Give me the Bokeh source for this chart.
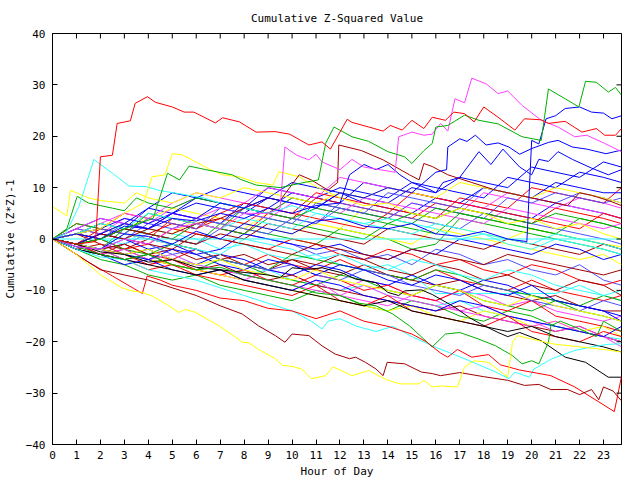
from bokeh.plotting import figure
from bokeh.models import FixedTicker, Range1d
from bokeh.embed import file_html
from bokeh.resources import INLINE

# ---------------- data ----------------
TITLE = "Cumulative Z-Squared Value"
X_LABEL = "Hour of Day"
Y_LABEL = "Cumulative (Z*Z)-1"
X_TICKS = list(range(0, 24))
Y_TICKS = [-40, -30, -20, -10, 0, 10, 20, 30, 40]

# common hourly grid for the dense middle of the bundle
HOURS = [0, 1, 2, 3, 4, 5, 6, 7, 8, 9, 10, 11, 12, 13, 14, 15, 16, 17, 18, 19, 20, 21, 22, 23, 23.75]

C01 = [0, -1, 1, 3, 2, 5, 4, 3, 7, 6, 9, 8, 10, 9, 8, 11, 10, 9, 8, 12, 11, 10, 13, 12, 11]
C02 = [0, -2, -3, -1, -3, -4, -2, -4, -5, -3, -5, -6, -4, -6, -7, -8, -6, -8, -9, -10, -8, -10, -11, -12, -11]
C03 = [0, -1, -2, 2, 1, 0, -1, 3, 2, 1, 0, -1, 2, 1, 0, -2, -1, 4, 3, 2, 1, 0, -1, -2, -3]
C04 = [0, -1, -3, -4, -3, -5, -6, -7, -8, -6, -7, -9, -10, -8, -9, -11, -12, -10, -11, -13, -12, -14, -15, -16, -15]
C05 = [0, -2, -1, -3, -4, -3, -5, -6, -7, -6, -8, -9, -10, -9, -11, -12, -13, -12, -14, -15, -16, -17, -18, -19, -19.5]
C06 = [0, 1, -1, -2, 0, -1, -2, -4, -3, -5, -4, -6, -7, -5, -7, -8, -9, -8, -10, -11, -12, -11, -13, -14, -14]
C07 = [0, 2, 1, 3, 2, 1, 4, 3, 2, 5, 4, 3, 2, 6, 5, 4, 3, 2, 1, 0, 2, 1, 0, -1, -1.5]
C09 = [0, -1, -2, -1, 1, 0, -1, 2, 1, 0, -1, -3, -2, -4, -3, -5, -2, -3, -5, -4, -6, -7, -5, -8, -9]
C10 = [0, 1, 3, 2, 6, 5, 7, 6, 5, 8, 7, 6, 9, 7, 6, 5, 8, 7, 6, 5, 4, 7, 6, 5, 4]
C11 = [0, -1, 0, -2, -1, 2, 1, 0, -1, -2, 0, -1, -3, -4, -2, -3, -5, -4, -6, -7, -5, -6, -8, -9, -8]
C12 = [0, -2, -4, -5, -7, -8, -7, -9, -10, -11, -12, -10, -11, -13, -14, -12, -13, -15, -16, -14, -15, -17, -18, -19, -20]
C13 = [0, 2, 1, 4, 3, 6, 8, 7, 6, 5, 8, 7, 6, 5, 4, 7, 6, 5, 9, 8, 7, 6, 8, 7, 6]
C14 = [0, 1, 0, -1, 2, 1, 0, -2, -1, -3, -4, -3, -5, -6, -5, -7, -10.6, -10.6, -10.6, -10.6, -10.6, -10.6, -9, -11, -12]
C15 = [0, -1, -2, -3, -2, -4, -5, -3, -4, -6, -7, -5, -6, -8, -9, -7, -9, -10, -8, -9, -11, -12, -13, -14, -16]
C16 = [0, 3, 2, 5, 4, 3, 2, 5, 7, 6, 5, 9, 8, 7, 6, 5, 4, 8, 7, 6, 10, 9, 8, 7, 10]
C17 = [0, 1, 3, 2, 4, 6, 5, 4, 3, 2, 1, 3, 2, 1, 0, -1, 2, 1, 0, -1, -2, -3, -4, -3, -5]
C18 = [0, -1, -3, -2, -4, -5, -6, -5, -7, -8, -7, -9, -10, -11, -12, -13, -14, -13, -15, -16, -17, -18, -17, -19, -20]
C19 = [0, -1, 1, 0, -2, -1, -3, -2, 1, 0, -1, -2, -1, -3, -4, -2, -3, 0, -1, -2, -3, -1, -2, -4, -3]
C20 = [0, -1, -2, -4, -3, -5, -6, -4, -5, -7, -8, -9, -7, -8, -10, -11, -9, -10, -12, -13, -14, -12, -14, -15, -16]
C21 = [0, 2, 1, 0, 3, 2, 4, 3, 2, 1, 4, 3, 6, 5, 4, 7, 6, 5, 4, 8, 7, 9, 8, 7, 8]
C22 = [0, -1, -2, -4, -5, -4, -6, -7, -8, -9, -10, -8, -11, -12, -13, -11, -12, -14, -13, -15, -16, -18, -17, -19, -21]
C25 = [0, -2, -1, -3, -5, -4, -6, -7, -6, -8, -9, -7, -8, -10, -9, -11, -12, -10, -13, -14, -12, -15, -16, -17, -18]
C26 = [0, 1, 2, 4, 3, 5, 8, 7, 6, 10, 9, 8, 7, 11, 10, 9, 8, 7, 10, 9, 8, 11, 10, 9, 9]
C27 = [0, -1, -2, -1, -3, -2, -4, -3, -5, -6, -4, -5, -3, -4, -6, -7, -5, -6, -8, -7, -9, -10, -8, -9, -11]
C28 = [0, -1, 0, -2, -3, -1, -2, -4, -5, -6, -3, -4, -5, -6, -7, -8, -6, -7, -9, -10, -11, -12, -13, -11, -12]
C29 = [0, -1, -2, -3, -4, -5, -6, -7, -8, -9, -10, -11, -12, -13, -14, -13, -15, -16, -14, -15, -17, -16, -18, -17, -19]
C30 = [0, -1, -3, -2, -4, -3, -5, -6, -7, -8, -9, -10, -11, -9, -11, -12, -13, -14, -15, -16, -17, -16, -18, -19, -20]
C31 = [0, 1, 0, 2, 1, 3, 2, 4, 3, 6, 5, 4, 3, 2, 5, 4, 7, 6, 5, 4, 3, 6, 5, 4, 3]
C32 = [0, -2, -3, -5, -4, -6, -7, -6, -8, -9, -10, -8, -9, -11, -12, -13, -14, -12, -13, -15, -16, -17, -18, -19, -17]
C33 = [0, -1, -2, 0, -1, -3, -2, -4, -5, -6, -5, -7, -8, -6, -7, -9, -10, -11, -9, -10, -12, -13, -14, -12, -13]
C36 = [0, 2, 4, 3, 6, 9, 8, 10, 9, 8, 11, 10, 9, 8, 7, 10, 9, 12, 11, 10, 14, 13, 12, 15, 14]
C37 = [0, 1, 3, 5, 4, 7, 9, 8, 7, 10, 9, 8, 12, 11, 10, 9, 8, 7, 6, 9, 8, 7, 6, 5, 4]
C38 = [0, 3, 2, 1, 5, 4, 3, 2, 6, 5, 8, 7, 6, 5, 4, 3, 6, 5, 4, 3, 2, 1, 4, 3, 2]
C39 = [0, -1, 2, 1, 0, 4, 3, 2, 1, 5, 4, 8, 7, 6, 5, 9, 8, 7, 6, 5, 4, 3, 2, 5, 4]
C40 = [0, 1, 0, 3, 2, 5, 4, 3, 6, 5, 4, 3, 7, 6, 5, 4, 3, 2, 5, 4, 3, 2, 1, 0, -1]
C41 = [0, -1, 1, 0, -1, -2, 1, 0, -1, -2, -3, -1, -2, -3, -4, -2, -3, -4, -5, -3, -4, -5, -6, -7, -6]
C42 = [0, -1, -2, 1, 0, -1, -2, -3, 0, -1, -2, -4, -3, -5, -6, -4, -5, -7, -8, -6, -7, -9, -10, -11, -10]
C43 = [0, 2, 4, 3, 2, 5, 4, 6, 5, 4, 7, 6, 5, 8, 7, 6, 5, 4, 3, 6, 5, 4, 3, 2, 3]
C44 = [0, -1, -3, -4, -6, -5, -7, -8, -9, -10, -11, -9, -12, -13, -11, -14, -15, -16, -17, -15, -18, -19, -20, -18, -19]
C45 = [0, 1, 3, 2, 1, 0, 3, 2, 1, 4, 3, 2, 1, 0, 3, 2, 1, 5, 4, 3, 2, 1, 0, -1, -2]
C46 = [0, -1, -2, -3, -4, -2, -3, -5, -6, -4, -5, -7, -5, -6, -8, -9, -7, -8, -10, -11, -9, -12, -13, -14, -15]
C47 = [0, 1, 2, 1, 4, 3, 2, 6, 5, 4, 3, 7, 6, 5, 9, 8, 7, 6, 10, 9, 8, 7, 9, 8, 7]
C48 = [0, -1, -2, -3, -2, -4, -5, -4, -6, -7, -8, -6, -8, -9, -10, -11, -9, -10, -12, -13, -11, -13, -14, -15, -16]
C49 = [0, 1, 0, 2, 1, 0, -1, 1, 0, 3, 2, 1, 0, -1, 2, 1, 0, -1, -2, 0, -1, -2, -3, -1, -2]
C50 = [0, 1, 3, 2, 5, 4, 3, 2, 4, 3, 2, 5, 4, 3, 2, 1, 3, 2, 1, 0, -1, 1, 0, -1, -2]
C51 = [0, -2, -3, -4, -5, -6, -7, -6, -8, -9, -10, -11, -12, -13, -12, -14, -15, -16, -17, -18, -17, -19, -20, -21, -22]

# traced individual lines: (hour, value) pairs
RED_TOP = [(0, 0), (1, -1), (1.8, -0.5), (2.0, 16), (2.5, 16.3), (2.7, 22.5), (3.25, 23), (3.45, 26.4),
           (3.96, 27.7), (4.3, 26.6), (5.0, 25.7), (5.5, 24.7), (5.9, 24.7), (6.8, 22.6), (7.1, 23.6),
           (7.8, 22.8), (8.5, 20.8), (9.3, 20.9), (9.9, 20.4), (10.7, 18.3), (11.25, 18.9), (11.6, 17.5),
           (12.3, 23.3), (12.5, 22.7), (13.2, 21.8), (13.8, 21), (14.1, 22.1), (14.6, 21.2), (15.0, 23.1),
           (15.5, 21.5), (15.85, 23.7), (16.4, 23.1), (16.75, 24.7), (17.2, 24.4), (17.6, 22.8), (18.0, 25.7),
           (18.6, 23.7), (19.3, 21.2), (19.7, 23.4), (20.4, 23.2), (20.7, 22.5), (21.4, 22.9), (22.1, 20.8),
           (22.7, 21.5), (23.05, 20.2), (23.5, 20.2), (23.75, 21.5)]
MAGENTA_TOP = [(0, 0), (1, -1.5), (2, -2), (3, 0), (4, -1), (5, 2), (6, 3), (7, 2), (8, 5), (9, 5), (9.5, 6),
               (9.7, 17.9), (10.2, 16.3), (10.7, 15.4), (11.0, 16.5), (11.25, 15), (12, 13.5), (12.5, 15.5),
               (13, 14), (14.3, 13), (14.45, 19.9), (15.0, 20.8), (15.5, 20.2), (15.85, 20.4), (16.2, 22.5),
               (16.5, 21), (16.8, 27.3), (17.2, 26.5), (17.5, 31.3), (18.1, 30.2), (18.6, 28.3), (19.0, 28.8),
               (19.6, 26), (20.4, 23.1), (21.1, 21.8), (21.8, 19.9), (22.3, 20.2), (23.05, 18.6), (23.75, 17)]
GREEN_TOP = [(0, 0), (1, -1), (2, 0), (3, 2), (4.2, 4), (4.8, 12.8), (5.3, 11.5), (5.7, 14.2), (6.4, 13.5),
             (7.5, 12.5), (7.85, 11.6), (8.5, 10.5), (9.5, 10), (10.5, 11), (11.1, 11.5), (11.4, 18.6),
             (11.75, 21.8), (12.5, 19.9), (13.2, 19), (14.0, 17), (14.7, 16), (15.0, 14.7), (15.5, 17.2),
             (15.85, 18.6), (16.0, 21.8), (16.5, 22.1), (17.2, 24.1), (17.8, 23.1), (18.6, 22.4), (19.6, 19.9),
             (20.4, 19.2), (20.7, 29.2), (21.4, 27.3), (21.97, 25.7), (22.25, 30.7), (22.7, 30.5),
             (23.2, 28.6), (23.5, 29.5), (23.75, 28)]
BLUE_TOP = [(0, 0), (1, -1.5), (2, -2), (3, 1), (4, 0.5), (5, -1), (6, 1.5), (7, 0), (8, 3), (9, 2), (10, 1),
            (11, 3.5), (12, 4), (13, 2.5), (14, 2), (15, 3), (16, 1), (17, 0.5), (18, 1.5), (19, 0),
            (19.8, -0.5), (20.0, 19.2), (20.3, 18.5), (20.6, 23.4), (21.0, 24), (21.4, 25.4), (22.0, 25.7),
            (22.5, 24.7), (23.0, 24.5), (23.35, 23.4), (23.75, 24)]
BLUE_MID1 = [(0, 0), (1, -1), (2, 1), (3, 3), (4, 2), (5, 5), (6, 4), (7, 7), (8, 6), (9, 8), (10, 7), (11, 6),
             (12, 9), (13, 8), (14, 10), (15, 9), (16, 13), (16.45, 13.5), (16.5, 17.9), (17.0, 19.5),
             (17.3, 19), (17.65, 20.2), (18.1, 18.3), (18.6, 18.7), (19.05, 17.9), (19.5, 16.5), (20.0, 17.6),
             (20.7, 18.8), (21.1, 19.2), (21.7, 17.9), (22.3, 17.5), (23.1, 16.6), (23.75, 17.3)]
BLUE_MID2 = [(0, 0), (1, 1), (2, 0), (3, 2.5), (4, 2), (5, 4), (6, 3.5), (7, 5), (8, 4), (9, 6), (10, 5),
             (11, 6.5), (12, 7), (12.4, 12.5), (13, 14.5), (13.5, 13.5), (14, 14.5), (14.5, 12.5), (15, 11),
             (15.8, 9.5), (16.0, 9), (16.3, 11), (17, 12), (17.8, 17), (18.3, 14.5), (18.8, 17.5), (19.5, 14),
             (20.0, 12.5), (20.3, 15.5), (20.7, 15.1), (21.1, 17), (21.7, 15.5), (22.5, 13.8), (23.2, 12.5),
             (23.75, 13.5)]
DARKRED_HIGH = [(0, 0), (1, -1), (2, 1), (3, 0), (4, 2), (5, 1), (6, 3), (7, 4), (8, 6), (9, 8), (9.5, 7.5),
                (10.3, 12.5), (10.8, 11.5), (11.5, 9.5), (11.9, 11), (11.95, 18.3), (12.9, 17.2), (13.8, 15.4),
                (14.9, 12.5), (15.3, 11.5), (15.5, 14.7), (15.85, 14.1), (16.5, 12.5), (17.5, 11), (18.5, 9.5),
                (19.5, 8.5), (20.5, 7.5), (21.5, 6.5), (22, 9), (22.5, 8.5), (23.2, 7.5), (23.75, 6.5)]
YELLOW_HIGH = [(0, 0), (1, 1), (2, 2), (3, 5), (3.8, 7), (4.15, 12.1), (4.7, 12.5), (5.0, 16.6), (5.4, 16.4),
               (5.7, 15.7), (6.5, 13.7), (7.1, 12.5), (7.8, 12.1), (8.5, 11), (9.2, 10.5), (9.45, 13.1),
               (10.3, 12.1), (11, 10.2), (12, 8), (13, 6.5), (14, 7), (15, 5), (16, 4), (17, 6), (18, 5),
               (19, 3), (20, 4), (21, 2), (22, 3), (23, 1), (23.75, 0)]
CYAN_HIGH = [(0, 0), (0.55, 1), (1.1, 6.3), (1.73, 15.5), (1.94, 14.7), (2.5, 12.8), (3.2, 10.3), (3.9, 10.2),
             (4.5, 9.4), (5.3, 8.8), (6.3, 8), (7, 7), (8, 6), (9, 5), (10, 6.5), (11, 5), (12, 4), (13, 3),
             (14, 4), (15, 3), (16, 2), (17, 0), (18, 1), (19, -1), (20, -2), (21, 0), (22, -1), (23, -2),
             (23.75, -3)]
GREEN_EARLY = [(0, 0), (0.6, 2), (1.03, 8.3), (1.5, 7), (2, 6.5), (2.5, 6), (3, 5.5), (3.5, 8), (4, 7), (5, 6),
               (6, 8), (7, 7), (8, 6), (9, 5), (10, 4), (11, 6), (12, 5), (13, 4), (14, 3), (15, 5), (16, 4),
               (17, 6), (18, 5), (19, 4), (20, 3), (21, 5), (22, 4), (23, 3), (23.75, 2)]
YELLOW_EARLY = [(0, 6.3), (0.6, 4.5), (0.75, 9.5), (1.5, 8), (2, 7.5), (3, 7), (3.5, 9), (4, 8), (5, 7), (6, 9),
                (7, 8), (8, 10), (9, 9), (10, 8), (11, 7), (12, 9), (13, 8), (14, 10), (15, 9), (16, 8),
                (17, 11), (18, 10), (19, 9), (20, 8), (21, 10), (22, 9), (23, 8), (23.75, 7)]
YELLOW_LOW = [(0, 0), (0.5, -1.5), (1, -3), (1.5, -5), (2.07, -7.2), (2.9, -9.5), (3.3, -10.1), (3.75, -10.4),
              (4.16, -11.1), (4.86, -13), (5.28, -14.3), (5.55, -13.7), (5.97, -14.3), (6.95, -16.9),
              (7.64, -19.1), (7.92, -20.1), (8.2, -20.2), (8.6, -21.5), (9.3, -23.3), (9.6, -24.6),
              (10.0, -24.8), (10.4, -25.3), (10.8, -27.2), (11.4, -26.6), (11.7, -24.9), (12.0, -25.5),
              (12.5, -26.6), (13.2, -25.6), (13.6, -26.6), (14.0, -27.5), (14.5, -28.2), (15.3, -28.2),
              (15.5, -27.5), (15.85, -28.8), (16.2, -28.6), (16.9, -28.8), (17.2, -24.9), (17.6, -23.7),
              (18.2, -24), (19.0, -26.9), (19.2, -20.1), (19.4, -18.8), (20.0, -19.5), (21.0, -20.5),
              (22.0, -21), (23.0, -21.5), (23.75, -22)]
DARKRED_LOW = [(0, 0), (1, -3), (2, -6), (3, -7), (4, -8), (5, -9.5), (6, -11), (7, -13), (7.92, -14.6),
               (8.6, -16.9), (9.3, -18.8), (9.7, -20.1), (10.0, -18.5), (10.7, -18.8), (11.25, -20.8),
               (11.8, -22.4), (12.4, -23.3), (12.65, -23), (13.06, -24), (13.5, -25.3), (13.8, -26.6),
               (13.97, -24), (14.7, -24.3), (15.4, -25.9), (15.85, -26.2), (16.2, -26.6), (17, -26), (18, -26.8),
               (19, -27.5), (19.7, -28.5), (20.3, -28.3), (20.8, -29.3), (21.5, -29.3), (22, -30.3),
               (22.5, -29.3), (22.8, -31.3), (23.0, -28.8), (23.4, -29.6), (23.75, -31.5)]
RED_LOW = [(0, 0), (0.5, -1.5), (1, -3), (1.5, -4.5), (2.5, -7.2), (3.2, -9.1), (3.75, -10.6), (3.95, -7.2),
           (4.5, -8), (5, -9), (6, -10), (7, -11.5), (8, -12), (9, -13.5), (10, -14), (11, -15.5), (12, -14),
           (13, -16), (14, -17), (15, -18.5), (15.6, -20), (16.2, -22.2), (16.5, -23), (16.9, -21.5),
           (17.5, -23), (18.2, -22.5), (18.7, -24.5), (19.5, -25.5), (20.8, -26.6), (21.8, -28.8),
           (22.8, -31.7), (23.45, -33.6), (23.75, -26.8)]
GREEN_LOW = [(0, 0), (1, -1.5), (2, -3), (3, -4), (4, -3), (5, -5), (6, -6), (7, -5.5), (8, -7), (9, -8),
             (10, -9), (11, -10.5), (12, -11), (12.8, -12.5), (13.5, -13), (14.2, -14.6), (14.9, -16.9),
             (15.85, -21), (16.4, -18.5), (17.0, -18.2), (17.8, -19.5), (18.5, -20.8), (19.2, -22.7),
             (19.6, -24.3), (20.0, -23.7), (20.3, -24.3), (20.7, -20.1), (20.8, -16.9), (21.2, -16),
             (22, -17.5), (22.7, -19), (23, -16), (23.75, -18)]
CYAN_LOW = [(0, 0), (1, -2), (2, -3.5), (3, -4), (4, -6), (5, -7), (6, -8), (7, -9.5), (8, -11), (9, -12.5),
            (10, -14), (10.8, -16), (11.25, -17.5), (11.5, -16), (12, -15.5), (12.7, -17), (13.5, -18),
            (14.2, -17), (15, -19), (15.85, -20.8), (17.2, -23.3), (18.5, -25.9), (19.05, -27.2),
            (19.3, -25.9), (19.9, -26.9), (20.1, -25.3), (20.85, -23.3), (21.8, -21.7), (22.5, -21),
            (23.2, -20.5), (23.75, -20.4)]
BLACK_LINE = [(0, 0), (1, -1), (2, -2.5), (3, -3), (4, -4.5), (5, -4), (6, -5.5), (7, -6), (8, -6.5), (9, -7),
              (9.5, -7.5), (10.0, -5.6), (10.7, -5.9), (11.25, -5.6), (12.1, -6.6), (12.65, -7.8), (13.5, -8.5),
              (14.0, -10.4), (14.45, -11), (14.7, -10.1), (15.4, -9.9), (15.85, -10.8), (16.8, -13.3),
              (17.4, -15.3), (17.9, -16.6), (18.6, -18.2), (19.0, -19), (19.5, -18.2), (20.4, -19.8),
              (21.4, -23), (22.25, -24), (23.2, -26.9), (23.75, -26.9)]
CYAN_FLAT = [(0, 0), (23.75, 0)]

RED = "#ff0000"
GREEN = "#00b000"
BLUE = "#0000ff"
MAGENTA = "#ff40ff"
CYAN = "#30ffff"
DARKRED = "#a00000"
YELLOW = "#ffff00"
BLACK = "#000000"
SLATE = "#5050ff"

HOURLY_SERIES = [
    (C01, BLUE), (C02, RED), (C03, GREEN), (C04, MAGENTA), (C05, CYAN), (C06, DARKRED), (C07, YELLOW),
    (C09, SLATE), (C10, BLUE), (C11, RED), (C12, GREEN), (C13, MAGENTA), (C14, CYAN), (C15, BLUE),
    (C16, RED), (C17, YELLOW), (C18, DARKRED), (C19, BLUE), (C20, GREEN), (C21, SLATE), (C22, MAGENTA),
    (C25, RED), (C26, BLUE), (C27, DARKRED), (C28, GREEN), (C29, YELLOW), (C30, MAGENTA), (C31, RED),
    (C32, BLUE), (C33, SLATE), (C36, BLUE), (C37, MAGENTA), (C38, GREEN), (C39, RED), (C40, SLATE),
    (C41, DARKRED), (C42, CYAN), (C43, MAGENTA), (C44, RED), (C45, GREEN), (C46, BLUE), (C47, SLATE),
    (C48, YELLOW), (C49, DARKRED), (C50, CYAN), (C51, BLACK),
]
TRACED_SERIES = [
    (CYAN_FLAT, CYAN), (GREEN_EARLY, GREEN), (YELLOW_EARLY, YELLOW), (CYAN_HIGH, CYAN),
    (YELLOW_HIGH, YELLOW), (DARKRED_HIGH, DARKRED), (BLUE_MID2, BLUE), (BLUE_MID1, BLUE),
    (BLACK_LINE, BLACK), (CYAN_LOW, CYAN), (GREEN_LOW, GREEN), (RED_LOW, RED), (DARKRED_LOW, DARKRED),
    (YELLOW_LOW, YELLOW), (BLUE_TOP, BLUE), (MAGENTA_TOP, MAGENTA), (GREEN_TOP, GREEN), (RED_TOP, RED),
]

# ---------------- figure ----------------
FONT = "DejaVu Sans Mono"
FS = "11px"
TICK_DX = 0.21   # inward tick length on the right border, in hours (about 5 px)
TICK_DY = 0.97   # inward tick length on the top border, in value units (about 5 px)

p = figure(width=640, height=480, output_backend="svg", toolbar_location=None,
           x_range=Range1d(0, 23.75), y_range=Range1d(-40, 40),
           min_border_left=51, min_border_right=19, min_border_top=33, min_border_bottom=34,
           title=TITLE)
p.title.align = "center"
p.title.vertical_align = "middle"
p.title.text_font = FONT
p.title.text_font_size = FS
p.title.text_font_style = "normal"
p.title.text_color = "black"
p.title.standoff = 16

p.grid.visible = False
p.outline_line_color = "black"
p.outline_line_width = 1
p.background_fill_color = "white"
p.border_fill_color = "white"

for ax in (p.xaxis[0], p.yaxis[0]):
    ax.major_tick_in = 5
    ax.major_tick_out = 0
    ax.minor_tick_line_color = None
    ax.axis_line_color = "black"
    ax.major_tick_line_color = "black"
    ax.major_label_text_font = FONT
    ax.major_label_text_font_size = FS
    ax.major_label_text_color = "black"
    ax.axis_label_text_font = FONT
    ax.axis_label_text_font_size = FS
    ax.axis_label_text_font_style = "normal"
    ax.axis_label_text_color = "black"

p.xaxis[0].ticker = FixedTicker(ticks=X_TICKS)
p.yaxis[0].ticker = FixedTicker(ticks=Y_TICKS)
p.xaxis[0].axis_label = X_LABEL
p.yaxis[0].axis_label = Y_LABEL
p.xaxis[0].major_label_standoff = 6
p.yaxis[0].major_label_standoff = 7
p.xaxis[0].axis_label_standoff = 3
p.yaxis[0].axis_label_standoff = 6

for vals, col in HOURLY_SERIES:
    p.line(HOURS, vals, line_color=col, line_width=1)

for pts, col in TRACED_SERIES:
    xs = [a for a, b in pts]
    ys = [b for a, b in pts]
    p.line(xs, ys, line_color=col, line_width=1)

# mirrored inward ticks on the top and right borders
x_top = p.x_range.end
y_top = p.y_range.end
p.segment(x0=X_TICKS, y0=[y_top] * len(X_TICKS), x1=X_TICKS, y1=[y_top - TICK_DY] * len(X_TICKS),
          line_color="black", line_width=1)
p.segment(x0=[x_top] * len(Y_TICKS), y0=Y_TICKS, x1=[x_top - TICK_DX] * len(Y_TICKS), y1=Y_TICKS,
          line_color="black", line_width=1)

open("out.html", "w").write(file_html(p, INLINE))
